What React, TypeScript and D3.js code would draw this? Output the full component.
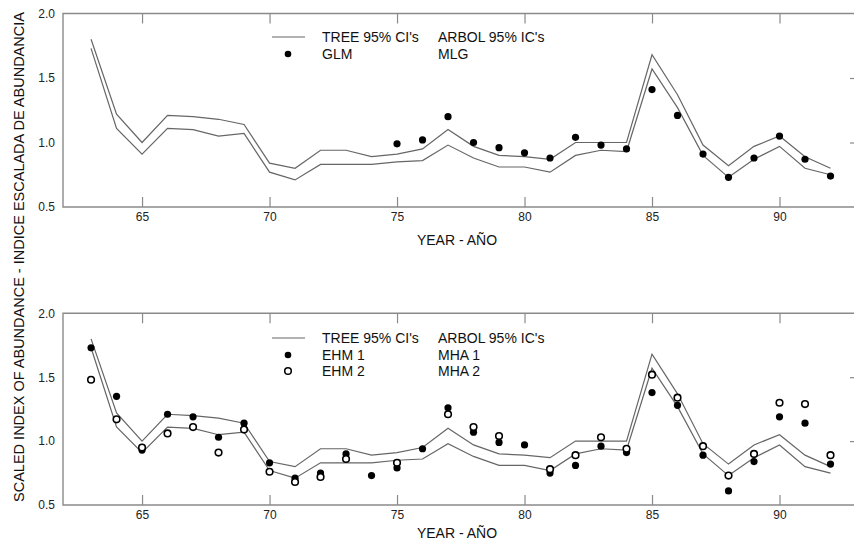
import React, { useEffect, useRef } from 'react';
import * as d3 from 'd3';

const years = [63, 64, 65, 66, 67, 68, 69, 70, 71, 72, 73, 74, 75, 76, 77, 78, 79, 80, 81, 82, 83, 84, 85, 86, 87, 88, 89, 90, 91, 92];

// TREE 95% CI bounds
const treeUpper = [1.80, 1.22, 1.00, 1.21, 1.20, 1.18, 1.14, 0.84, 0.80, 0.94, 0.94, 0.89, 0.91, 0.95, 1.10, 0.97, 0.90, 0.89, 0.87, 1.00, 1.00, 1.00, 1.68, 1.37, 0.98, 0.82, 0.97, 1.05, 0.89, 0.80];
const treeLower = [1.73, 1.11, 0.91, 1.11, 1.10, 1.05, 1.07, 0.77, 0.71, 0.83, 0.83, 0.83, 0.85, 0.86, 0.98, 0.88, 0.81, 0.81, 0.77, 0.90, 0.94, 0.93, 1.57, 1.27, 0.90, 0.73, 0.87, 0.97, 0.80, 0.75];

const glm = [null, null, null, null, null, null, null, null, null, null, null, null, 0.99, 1.02, 1.20, 1.00, 0.96, 0.92, 0.88, 1.04, 0.98, 0.95, 1.41, 1.21, 0.91, 0.73, 0.88, 1.05, 0.87, 0.74];
const ehm1 = [1.73, 1.35, 0.93, 1.21, 1.19, 1.03, 1.14, 0.83, 0.71, 0.75, 0.90, 0.73, 0.79, 0.94, 1.26, 1.07, 0.99, 0.97, 0.75, 0.81, 0.96, 0.91, 1.38, 1.28, 0.89, 0.61, 0.84, 1.19, 1.14, 0.82];
const ehm2 = [1.48, 1.17, 0.95, 1.06, 1.11, 0.91, 1.09, 0.76, 0.68, 0.72, 0.86, null, 0.83, null, 1.21, 1.11, 1.04, null, 0.78, 0.89, 1.03, 0.94, 1.52, 1.34, 0.96, 0.73, 0.90, 1.30, 1.29, 0.89];

const yearTicks = [65, 70, 75, 80, 85, 90];
const valueTicks = [0.5, 1.0, 1.5, 2.0];

const FONT = '"Liberation Sans", Arial, Helvetica, sans-serif';
const FRAME = '#8a8a8a';

const App = () => {
  const svgRef = useRef(null);

  useEffect(() => {
    const svg = d3.select(svgRef.current);
    svg.selectAll('*').remove();

    const x = d3.scaleLinear().domain([61.9, 93]).range([63, 856]);

    const panels = [
      { top: 13.5, bottom: 207, xLabelY: 245, legendY: 37, series: [{ name: 'GLM', es: 'MLG', data: glm, open: false }] },
      {
        top: 313.3, bottom: 505, xLabelY: 538, legendY: 338, series: [
          { name: 'EHM 1', es: 'MHA 1', data: ehm1, open: false },
          { name: 'EHM 2', es: 'MHA 2', data: ehm2, open: true },
        ]
      },
    ];

    panels.forEach(p => {
      const y = d3.scaleLinear().domain([0.5, 2.0]).range([p.bottom, p.top]);
      const g = svg.append('g');

      // bottom axis with inward ticks
      const bx = g.append('g')
        .attr('transform', `translate(0, ${p.bottom})`)
        .call(d3.axisBottom(x).tickValues(yearTicks).tickSize(-10).tickPadding(5).tickFormat(d3.format('d')));
      bx.select('.domain').remove();

      const tx = g.append('g')
        .attr('transform', `translate(0, ${p.top})`)
        .call(d3.axisTop(x).tickValues(yearTicks).tickSize(-10).tickFormat(() => ''));
      tx.select('.domain').remove();

      const ly = g.append('g')
        .attr('transform', `translate(63, 0)`)
        .call(d3.axisLeft(y).tickValues(valueTicks).tickSize(0).tickPadding(8).tickFormat(d3.format('.1f')));
      ly.select('.domain').remove();

      const ry = g.append('g')
        .attr('transform', `translate(856, 0)`)
        .call(d3.axisRight(y).tickValues([1.0, 1.5]).tickSize(-6).tickFormat(() => ''));
      ry.select('.domain').remove();

      g.selectAll('.tick line').attr('stroke', FRAME).attr('stroke-width', 1.2);
      g.selectAll('.tick text')
        .attr('fill', '#222')
        .style('font-family', FONT)
        .style('font-size', '12px');

      // frame
      g.append('path')
        .attr('d', `M856,${p.top}H63V${p.bottom}H856`)
        .attr('fill', 'none')
        .attr('stroke', FRAME)
        .attr('stroke-width', 1.4);

      // CI lines
      const line = d3.line<number>().x((d, i) => x(years[i])).y(d => y(d));
      [treeUpper, treeLower].forEach(arr => {
        g.append('path')
          .datum(arr)
          .attr('d', line)
          .attr('fill', 'none')
          .attr('stroke', '#666')
          .attr('stroke-width', 1.2);
      });

      // points
      p.series.forEach(s => {
        const pts = s.data.map((v, i) => ({ yr: years[i], v })).filter(d => d.v != null);
        g.selectAll(null)
          .data(pts)
          .join('circle')
          .attr('cx', d => x(d.yr))
          .attr('cy', d => y(d.v))
          .attr('r', s.open ? 3.3 : 3.6)
          .attr('fill', s.open ? '#fff' : '#000')
          .attr('stroke', s.open ? '#000' : 'none')
          .attr('stroke-width', 1.6);
      });

      // legend
      const leg = g.append('g').style('font-family', FONT).style('font-size', '14px').attr('fill', '#111');
      leg.append('line')
        .attr('x1', 272).attr('x2', 305)
        .attr('y1', p.legendY).attr('y2', p.legendY)
        .attr('stroke', '#666').attr('stroke-width', 1.2);
      leg.append('text').attr('x', 322).attr('y', p.legendY + 5).text("TREE 95% CI's");
      leg.append('text').attr('x', 438).attr('y', p.legendY + 5).text("ARBOL 95% IC's");
      p.series.forEach((s, i) => {
        const ry2 = p.legendY + 16 * (i + 1) + 1;
        leg.append('circle')
          .attr('cx', 288).attr('cy', ry2)
          .attr('r', 3.3)
          .attr('fill', s.open ? '#fff' : '#000')
          .attr('stroke', s.open ? '#000' : 'none')
          .attr('stroke-width', 1.5);
        leg.append('text').attr('x', 322).attr('y', ry2 + 5).text(s.name);
        leg.append('text').attr('x', 438).attr('y', ry2 + 5).text(s.es);
      });

      // x label
      g.append('text')
        .attr('x', 457)
        .attr('y', p.xLabelY)
        .attr('text-anchor', 'middle')
        .attr('fill', '#111')
        .style('font-family', FONT)
        .style('font-size', '14px')
        .text('YEAR - AÑO');
    });

    svg.append('text')
      .attr('transform', 'translate(24, 257) rotate(-90)')
      .attr('text-anchor', 'middle')
      .attr('fill', '#111')
      .style('font-family', FONT)
      .style('font-size', '14.5px')
      .text('SCALED INDEX OF ABUNDANCE - INDICE ESCALADA DE ABUNDANCIA');
  }, []);

  return (
    <svg ref={svgRef} width={854} height={544}
      style={{ position: 'absolute', left: 0, top: 0, background: '#fff' }} />
  );
};

export default App;
